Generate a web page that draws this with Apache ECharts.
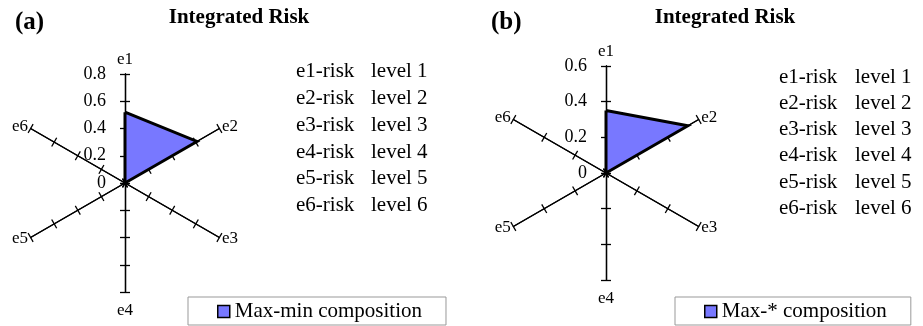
<!DOCTYPE html>
<html><head><meta charset="utf-8">
<script src="https://cdn.jsdelivr.net/npm/echarts@6/dist/echarts.min.js"></script>
<style>html,body{margin:0;padding:0;background:#fff}#c{width:923px;height:326px}</style>
</head><body><div id="c"></div>
<script>
// ---- data ----
const axisNames = ['e1', 'e2', 'e3', 'e4', 'e5', 'e6'];
const maxA = 0.8;           // panel (a) axis max, ticks 0,0.2,...,0.8
const maxB = 0.6;           // panel (b) axis max, ticks 0,0.2,...,0.6
const tickStep = 0.2;
const valuesA = [0.52, 0.61, 0, 0, 0, 0];   // Max-min composition
const valuesB = [0.35, 0.53, 0, 0, 0, 0];   // Max-* composition
const seriesNameA = 'Max-min composition';
const seriesNameB = 'Max-* composition';
const panelTitle = 'Integrated Risk';
const panelTags = ['(a)', '(b)'];
const riskLabels = ['e1-risk', 'e2-risk', 'e3-risk', 'e4-risk', 'e5-risk', 'e6-risk'];
const levelLabels = ['level 1', 'level 2', 'level 3', 'level 4', 'level 5', 'level 6'];

// ---- layout / style ----
const SERIF = '"Liberation Serif", "Times New Roman", serif';
const FILL = '#7878ff';
// ECharts lays radar indicators counter-clockwise; reorder so e2 sits upper right
const order = [0, 5, 4, 3, 2, 1];
const nameGaps = [6, 3, 3, 10, 3, 3];   // per axis e1..e6

function makeRadar(center, radius, max, withText, flip) {
  return {
    center: center, radius: radius, startAngle: 90,
    splitNumber: Math.round(max / tickStep), shape: 'polygon',
    indicator: order.map(function (i) {
      const ind = { name: withText ? axisNames[i] : '', min: 0, max: max, nameGap: nameGaps[i] };
      if (withText && i === 0) ind.axisLabel = { show: true };
      return ind;
    }),
    axisName: { show: withText, color: '#000', fontFamily: SERIF, fontSize: 17 },
    nameGap: 6,
    splitLine: { show: false },
    splitArea: { show: false },
    axisLine: { show: true, lineStyle: { color: '#000', width: 1.3 } },
    axisTick: { show: true, length: flip ? -5 : 5, lineStyle: { color: '#000', width: 1.3 } },
    axisLabel: {
      show: false, color: '#000', fontFamily: SERIF, fontSize: 18, margin: 19,
      formatter: function (v) { return String(Math.round(v * 10) / 10); }
    },
    silent: true
  };
}

// filled area, then the outline drawn on top from the same values
function makeSeries(radarIndex, name, values) {
  const v = order.map(function (i) { return values[i]; });
  return [{
    type: 'radar', radarIndex: radarIndex, name: name, symbol: 'none', silent: true, z: 4,
    lineStyle: { width: 0, opacity: 0 },
    areaStyle: { color: FILL, opacity: 1 },
    itemStyle: { color: FILL },
    data: [{ name: name, value: v }]
  }, {
    type: 'radar', radarIndex: radarIndex, name: name, symbol: 'none', silent: true, z: 5,
    lineStyle: { color: '#000', width: 3, join: 'miter' },
    itemStyle: { color: FILL },
    data: [{ name: name, value: v }]
  }];
}

function makeLegend(name, left) {
  return {
    data: [{ name: name, icon: 'rect', itemStyle: { color: FILL, borderColor: '#000', borderWidth: 1.5 } }],
    left: left, top: 297, orient: 'horizontal',
    itemWidth: 12, itemHeight: 12,
    padding: [4, 24, 3, 29],
    borderColor: '#999', borderWidth: 1,
    selectedMode: false,
    textStyle: { fontFamily: SERIF, fontSize: 21, color: '#000' }
  };
}

function textBlock(lines, x, y0, step) {
  return lines.map(function (t, k) {
    return { type: 'text', x: x, y: y0 + k * step, silent: true,
      style: { text: t, font: '21px ' + SERIF, fill: '#000', textAlign: 'left', textVerticalAlign: 'middle' } };
  });
}

const graphics = [
  { type: 'text', x: 15, y: 23, style: { text: panelTags[0], font: 'bold 25px ' + SERIF, fill: '#000', textAlign: 'left', textVerticalAlign: 'middle' } },
  { type: 'text', x: 491, y: 23, style: { text: panelTags[1], font: 'bold 25px ' + SERIF, fill: '#000', textAlign: 'left', textVerticalAlign: 'middle' } },
  { type: 'text', x: 239, y: 18, style: { text: panelTitle, font: 'bold 21px ' + SERIF, fill: '#000', textAlign: 'center', textVerticalAlign: 'middle' } },
  { type: 'text', x: 725, y: 18, style: { text: panelTitle, font: 'bold 21px ' + SERIF, fill: '#000', textAlign: 'center', textVerticalAlign: 'middle' } }
].concat(textBlock(riskLabels, 296, 71.7, 26.8))
 .concat(textBlock(levelLabels, 371, 71.7, 26.8))
 .concat(textBlock(riskLabels, 779, 77.3, 26.2))
 .concat(textBlock(levelLabels, 855, 77.3, 26.2));

const chart = echarts.init(document.getElementById('c'), null, { renderer: 'canvas' });
chart.setOption({
  animation: false,
  backgroundColor: '#fff',
  radar: [
    makeRadar([125, 183], 109, maxA, true, false),
    makeRadar([606, 173], 107, maxB, true, false),
    makeRadar([125, 183], 109, maxA, false, true),
    makeRadar([606, 173], 107, maxB, false, true)
  ],
  legend: [makeLegend(seriesNameA, 188), makeLegend(seriesNameB, 675)],
  series: makeSeries(0, seriesNameA, valuesA).concat(makeSeries(1, seriesNameB, valuesB)),
  graphic: graphics
});
</script>
</body></html>
